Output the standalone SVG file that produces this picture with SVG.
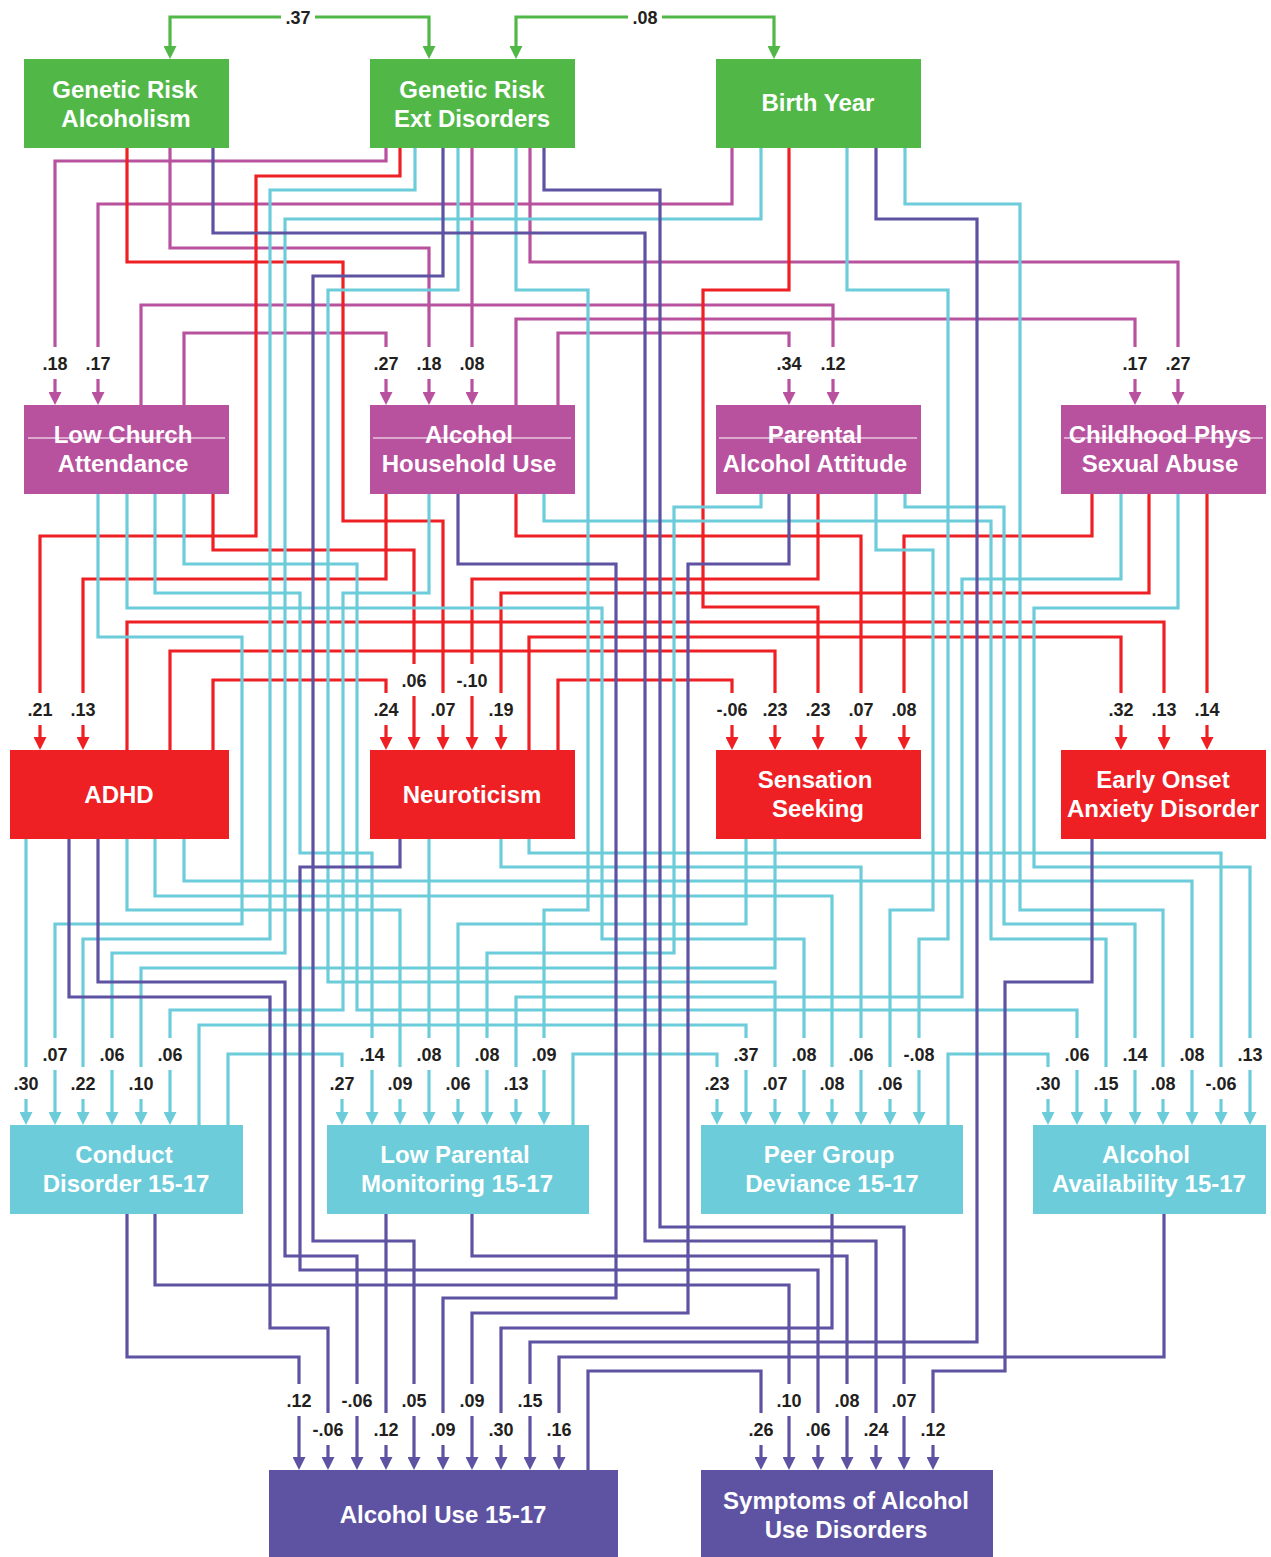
<svg xmlns="http://www.w3.org/2000/svg" width="1271" height="1557" viewBox="0 0 1271 1557">
<defs>
<style>
.e{fill:none;stroke-width:3.2;stroke-linejoin:miter}
.eg{stroke:#51B848}
.em{stroke:#B8529E}
.er{stroke:#EE2024}
.ec{stroke:#6DCCDA}
.ep{stroke:#5D53A2}
.lb rect{fill:#fff}
.lb text{font-family:"Liberation Sans",Arial,sans-serif;font-weight:bold;font-size:18px;fill:#231F20;text-anchor:middle}
.nd text{font-family:"Liberation Sans",Arial,sans-serif;font-weight:bold;font-size:24px;fill:#fff;text-anchor:middle}
.g1{fill:#51B848}.g2{fill:#B8529E}.g3{fill:#EE2024}.g4{fill:#6DCCDA}.g5{fill:#5D53A2}
.st{stroke:#fff;stroke-width:1.2}
</style>
<marker id="ag" viewBox="0 0 13 13" refX="3" refY="6.5" markerWidth="13" markerHeight="13" markerUnits="userSpaceOnUse" orient="auto-start-reverse"><path d="M0,0 L13,6.5 L0,13 Z" fill="#51B848"/></marker>
<marker id="am" viewBox="0 0 13 13" refX="3" refY="6.5" markerWidth="13" markerHeight="13" markerUnits="userSpaceOnUse" orient="auto"><path d="M0,0 L13,6.5 L0,13 Z" fill="#B8529E"/></marker>
<marker id="ar" viewBox="0 0 13 13" refX="3" refY="6.5" markerWidth="13" markerHeight="13" markerUnits="userSpaceOnUse" orient="auto"><path d="M0,0 L13,6.5 L0,13 Z" fill="#EE2024"/></marker>
<marker id="ac" viewBox="0 0 13 13" refX="3" refY="6.5" markerWidth="13" markerHeight="13" markerUnits="userSpaceOnUse" orient="auto"><path d="M0,0 L13,6.5 L0,13 Z" fill="#6DCCDA"/></marker>
<marker id="ap" viewBox="0 0 13 13" refX="3" refY="6.5" markerWidth="13" markerHeight="13" markerUnits="userSpaceOnUse" orient="auto"><path d="M0,0 L13,6.5 L0,13 Z" fill="#5D53A2"/></marker>
</defs>
<rect width="1271" height="1557" fill="#fff"/>
<g id="connectors">
<g class="e eg" marker-start="url(#ag)" marker-end="url(#ag)">
<path d="M170,49 V17 H429 V49"/>
<path d="M516,49 V17 H774 V49"/>
</g>
<g class="e em" marker-end="url(#am)">
<path d="M386,148 V161 H55 V395"/>
<path d="M732,148 V204 H98 V395"/>
<path d="M170,148 V248 H429 V395"/>
<path d="M472,148 V395"/>
<path d="M184,405 V333 H386 V395"/>
<path d="M141,405 V305 H833 V395"/>
<path d="M558,405 V333 H789 V395"/>
<path d="M516,405 V319 H1135 V395"/>
<path d="M530,148 V262 H1178 V395"/>
</g>
<g class="e er" marker-end="url(#ar)">
<path d="M127,148 V262 H343 V521 H443 V740"/>
<path d="M400,148 V176 H256 V536 H40 V740"/>
<path d="M213,494 V550 H414 V740"/>
<path d="M386,494 V579 H83 V740"/>
<path d="M516,494 V536 H861 V740"/>
<path d="M818,494 V579 H472 V740"/>
<path d="M789,148 V290 H703 V607 H818 V740"/>
<path d="M1092,494 V536 H904 V740"/>
<path d="M1149,494 V593 H501 V740"/>
<path d="M1207,494 V740"/>
<path d="M127,750 V622 H1164 V740"/>
<path d="M170,750 V651 H775 V740"/>
<path d="M213,750 V680 H386 V740"/>
<path d="M529,750 V637 H1121 V740"/>
<path d="M558,750 V680 H732 V740"/>
</g>
<g class="e ec" marker-end="url(#ac)">
<path d="M26,839 V1115"/>
<path d="M98,494 V637 H242 V924 H55 V1115"/>
<path d="M415,148 V190 H270 V939 H83 V1115"/>
<path d="M761,148 V219 H285 V953 H112 V1115"/>
<path d="M775,839 V968 H141 V1115"/>
<path d="M429,494 V593 H343 V1010 H170 V1115"/>
<path d="M228,1125 V1054 H342 V1115"/>
<path d="M155,494 V593 H300 V853 H372 V1115"/>
<path d="M127,839 V910 H400 V1115"/>
<path d="M429,839 V1115"/>
<path d="M746,839 V924 H458 V1115"/>
<path d="M761,494 V507 H674 V953 H487 V1115"/>
<path d="M1121,494 V579 H962 V997 H516 V1115"/>
<path d="M516,148 V290 H588 V910 H544 V1115"/>
<path d="M573,1125 V1054 H717 V1115"/>
<path d="M199,1125 V1025 H746 V1115"/>
<path d="M458,148 V290 H328 V982 H775 V1115"/>
<path d="M127,494 V608 H602 V939 H804 V1115"/>
<path d="M155,839 V896 H832 V1115"/>
<path d="M501,839 V867 H861 V1115"/>
<path d="M876,494 V550 H933 V910 H890 V1115"/>
<path d="M847,148 V290 H948 V939 H919 V1115"/>
<path d="M948,1125 V1054 H1048 V1115"/>
<path d="M184,494 V564 H357 V1010 H1077 V1115"/>
<path d="M544,494 V521 H991 V939 H1106 V1115"/>
<path d="M905,494 V507 H1004 V924 H1135 V1115"/>
<path d="M905,148 V204 H1020 V910 H1163 V1115"/>
<path d="M184,839 V881 H1192 V1115"/>
<path d="M529,839 V853 H1221 V1115"/>
<path d="M1178,494 V608 H1034 V867 H1250 V1115"/>
</g>
<g class="e ep" marker-end="url(#ap)">
<path d="M213,148 V233 H645 V1241 H876 V1460"/>
<path d="M443,148 V276 H313 V1241 H414 V1460"/>
<path d="M544,148 V190 H660 V1227 H904 V1460"/>
<path d="M876,148 V219 H977 V1342 H530 V1460"/>
<path d="M458,494 V564 H616 V1298 H443 V1460"/>
<path d="M789,494 V564 H688 V1313 H472 V1460"/>
<path d="M69,839 V997 H270 V1328 H328 V1460"/>
<path d="M98,839 V982 H285 V1256 H357 V1460"/>
<path d="M400,839 V867 H300 V1270 H818 V1460"/>
<path d="M1092,839 V982 H1005 V1371 H933 V1460"/>
<path d="M127,1214 V1357 H299 V1460"/>
<path d="M155,1214 V1285 H789 V1460"/>
<path d="M386,1214 V1460"/>
<path d="M472,1214 V1256 H847 V1460"/>
<path d="M832,1214 V1328 H501 V1460"/>
<path d="M1164,1214 V1357 H559 V1460"/>
<path d="M588,1470 V1371 H761 V1460"/>
</g>
<g id="edge-labels" class="lb">
<rect x="281" y="4" width="34" height="26"/><text x="298" y="24">.37</text>
<rect x="628" y="4" width="34" height="26"/><text x="645" y="24">.08</text>
<rect x="39" y="347" width="32" height="32"/><text x="55" y="370">.18</text>
<rect x="82" y="347" width="32" height="32"/><text x="98" y="370">.17</text>
<rect x="370" y="347" width="32" height="32"/><text x="386" y="370">.27</text>
<rect x="413" y="347" width="32" height="32"/><text x="429" y="370">.18</text>
<rect x="456" y="347" width="32" height="32"/><text x="472" y="370">.08</text>
<rect x="773" y="347" width="32" height="32"/><text x="789" y="370">.34</text>
<rect x="817" y="347" width="32" height="32"/><text x="833" y="370">.12</text>
<rect x="1119" y="347" width="32" height="32"/><text x="1135" y="370">.17</text>
<rect x="1162" y="347" width="32" height="32"/><text x="1178" y="370">.27</text>
<rect x="24" y="693" width="32" height="32"/><text x="40" y="716">.21</text>
<rect x="67" y="693" width="32" height="32"/><text x="83" y="716">.13</text>
<rect x="370" y="693" width="32" height="32"/><text x="386" y="716">.24</text>
<rect x="427" y="693" width="32" height="32"/><text x="443" y="716">.07</text>
<rect x="485" y="693" width="32" height="32"/><text x="501" y="716">.19</text>
<rect x="713" y="693" width="38" height="32"/><text x="732" y="716">-.06</text>
<rect x="759" y="693" width="32" height="32"/><text x="775" y="716">.23</text>
<rect x="802" y="693" width="32" height="32"/><text x="818" y="716">.23</text>
<rect x="845" y="693" width="32" height="32"/><text x="861" y="716">.07</text>
<rect x="888" y="693" width="32" height="32"/><text x="904" y="716">.08</text>
<rect x="1105" y="693" width="32" height="32"/><text x="1121" y="716">.32</text>
<rect x="1148" y="693" width="32" height="32"/><text x="1164" y="716">.13</text>
<rect x="1191" y="693" width="32" height="32"/><text x="1207" y="716">.14</text>
<rect x="398" y="664" width="32" height="32"/><text x="414" y="687">.06</text>
<rect x="453" y="664" width="38" height="32"/><text x="472" y="687">-.10</text>
<rect x="39" y="1038" width="32" height="32"/><text x="55" y="1061">.07</text>
<rect x="96" y="1038" width="32" height="32"/><text x="112" y="1061">.06</text>
<rect x="154" y="1038" width="32" height="32"/><text x="170" y="1061">.06</text>
<rect x="356" y="1038" width="32" height="32"/><text x="372" y="1061">.14</text>
<rect x="413" y="1038" width="32" height="32"/><text x="429" y="1061">.08</text>
<rect x="471" y="1038" width="32" height="32"/><text x="487" y="1061">.08</text>
<rect x="528" y="1038" width="32" height="32"/><text x="544" y="1061">.09</text>
<rect x="730" y="1038" width="32" height="32"/><text x="746" y="1061">.37</text>
<rect x="788" y="1038" width="32" height="32"/><text x="804" y="1061">.08</text>
<rect x="845" y="1038" width="32" height="32"/><text x="861" y="1061">.06</text>
<rect x="900" y="1038" width="38" height="32"/><text x="919" y="1061">-.08</text>
<rect x="1061" y="1038" width="32" height="32"/><text x="1077" y="1061">.06</text>
<rect x="1119" y="1038" width="32" height="32"/><text x="1135" y="1061">.14</text>
<rect x="1176" y="1038" width="32" height="32"/><text x="1192" y="1061">.08</text>
<rect x="1234" y="1038" width="32" height="32"/><text x="1250" y="1061">.13</text>
<rect x="10" y="1067" width="32" height="32"/><text x="26" y="1090">.30</text>
<rect x="67" y="1067" width="32" height="32"/><text x="83" y="1090">.22</text>
<rect x="125" y="1067" width="32" height="32"/><text x="141" y="1090">.10</text>
<rect x="326" y="1067" width="32" height="32"/><text x="342" y="1090">.27</text>
<rect x="384" y="1067" width="32" height="32"/><text x="400" y="1090">.09</text>
<rect x="442" y="1067" width="32" height="32"/><text x="458" y="1090">.06</text>
<rect x="500" y="1067" width="32" height="32"/><text x="516" y="1090">.13</text>
<rect x="701" y="1067" width="32" height="32"/><text x="717" y="1090">.23</text>
<rect x="759" y="1067" width="32" height="32"/><text x="775" y="1090">.07</text>
<rect x="816" y="1067" width="32" height="32"/><text x="832" y="1090">.08</text>
<rect x="874" y="1067" width="32" height="32"/><text x="890" y="1090">.06</text>
<rect x="1032" y="1067" width="32" height="32"/><text x="1048" y="1090">.30</text>
<rect x="1090" y="1067" width="32" height="32"/><text x="1106" y="1090">.15</text>
<rect x="1147" y="1067" width="32" height="32"/><text x="1163" y="1090">.08</text>
<rect x="1202" y="1067" width="38" height="32"/><text x="1221" y="1090">-.06</text>
<rect x="283" y="1384" width="32" height="32"/><text x="299" y="1407">.12</text>
<rect x="338" y="1384" width="38" height="32"/><text x="357" y="1407">-.06</text>
<rect x="398" y="1384" width="32" height="32"/><text x="414" y="1407">.05</text>
<rect x="456" y="1384" width="32" height="32"/><text x="472" y="1407">.09</text>
<rect x="514" y="1384" width="32" height="32"/><text x="530" y="1407">.15</text>
<rect x="773" y="1384" width="32" height="32"/><text x="789" y="1407">.10</text>
<rect x="831" y="1384" width="32" height="32"/><text x="847" y="1407">.08</text>
<rect x="888" y="1384" width="32" height="32"/><text x="904" y="1407">.07</text>
<rect x="309" y="1413" width="38" height="32"/><text x="328" y="1436">-.06</text>
<rect x="370" y="1413" width="32" height="32"/><text x="386" y="1436">.12</text>
<rect x="427" y="1413" width="32" height="32"/><text x="443" y="1436">.09</text>
<rect x="485" y="1413" width="32" height="32"/><text x="501" y="1436">.30</text>
<rect x="543" y="1413" width="32" height="32"/><text x="559" y="1436">.16</text>
<rect x="745" y="1413" width="32" height="32"/><text x="761" y="1436">.26</text>
<rect x="802" y="1413" width="32" height="32"/><text x="818" y="1436">.06</text>
<rect x="860" y="1413" width="32" height="32"/><text x="876" y="1436">.24</text>
<rect x="917" y="1413" width="32" height="32"/><text x="933" y="1436">.12</text>
</g>
</g>
<g id="nodes" class="nd">
<g id="genetic-risk-alcoholism"><rect class="g1" x="24" y="59" width="205" height="89"/><text x="125" y="98">Genetic Risk</text><text x="126" y="127">Alcoholism</text></g>
<g id="genetic-risk-ext"><rect class="g1" x="370" y="59" width="205" height="89"/><text x="472" y="98">Genetic Risk</text><text x="472" y="127">Ext Disorders</text></g>
<g id="birth-year"><rect class="g1" x="716" y="59" width="205" height="89"/><text x="818" y="111">Birth Year</text></g>
<g id="low-church"><rect class="g2" x="24" y="405" width="205" height="89"/><text x="123" y="443">Low Church</text><text x="123" y="472">Attendance</text><line class="st" x1="28" y1="438" x2="225" y2="438"/></g>
<g id="alcohol-household"><rect class="g2" x="370" y="405" width="205" height="89"/><text x="469" y="443">Alcohol</text><text x="469" y="472">Household Use</text><line class="st" x1="373" y1="438" x2="571" y2="438"/></g>
<g id="parental-attitude"><rect class="g2" x="716" y="405" width="205" height="89"/><text x="815" y="443">Parental</text><text x="815" y="472">Alcohol Attitude</text><line class="st" x1="719" y1="438" x2="917" y2="438"/></g>
<g id="childhood-abuse"><rect class="g2" x="1061" y="405" width="205" height="89"/><text x="1160" y="443">Childhood Phys</text><text x="1160" y="472">Sexual Abuse</text><line class="st" x1="1064" y1="438" x2="1263" y2="438"/></g>
<g id="adhd"><rect class="g3" x="10" y="750" width="219" height="89"/><text x="119" y="803">ADHD</text></g>
<g id="neuroticism"><rect class="g3" x="370" y="750" width="205" height="89"/><text x="472" y="803">Neuroticism</text></g>
<g id="sensation-seeking"><rect class="g3" x="716" y="750" width="205" height="89"/><text x="815" y="788">Sensation</text><text x="818" y="817">Seeking</text></g>
<g id="early-onset-anxiety"><rect class="g3" x="1061" y="750" width="205" height="89"/><text x="1163" y="788">Early Onset</text><text x="1163" y="817">Anxiety Disorder</text></g>
<g id="conduct-disorder"><rect class="g4" x="10" y="1125" width="233" height="89"/><text x="124" y="1163">Conduct</text><text x="126" y="1192">Disorder 15-17</text></g>
<g id="low-parental-monitoring"><rect class="g4" x="327" y="1125" width="262" height="89"/><text x="455" y="1163">Low Parental</text><text x="457" y="1192">Monitoring 15-17</text></g>
<g id="peer-group-deviance"><rect class="g4" x="701" y="1125" width="262" height="89"/><text x="829" y="1163">Peer Group</text><text x="832" y="1192">Deviance 15-17</text></g>
<g id="alcohol-availability"><rect class="g4" x="1033" y="1125" width="233" height="89"/><text x="1146" y="1163">Alcohol</text><text x="1149" y="1192">Availability 15-17</text></g>
<g id="alcohol-use"><rect class="g5" x="269" y="1470" width="349" height="87"/><text x="443" y="1523">Alcohol Use 15-17</text></g>
<g id="symptoms-aud"><rect class="g5" x="701" y="1470" width="292" height="87"/><text x="846" y="1509">Symptoms of Alcohol</text><text x="846" y="1538">Use Disorders</text></g>
</g>
</svg>
